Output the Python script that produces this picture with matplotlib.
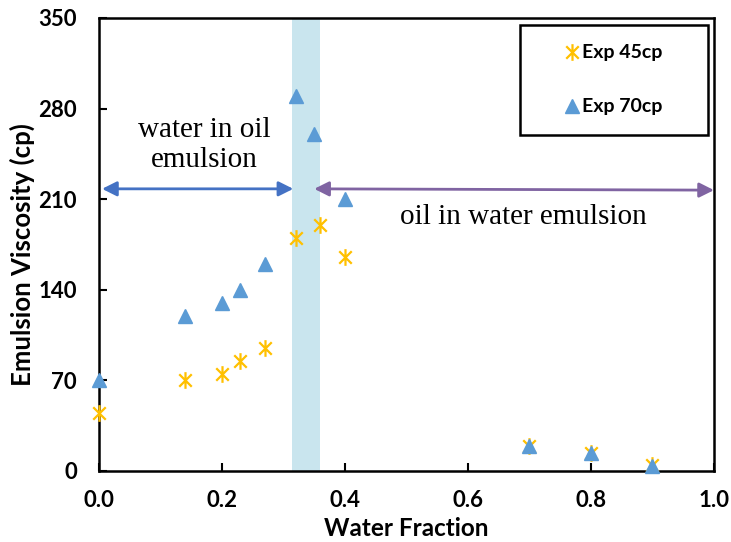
import matplotlib.pyplot as plt
from matplotlib.path import Path

# water fraction vs emulsion viscosity
x_45 = [0.0, 0.14, 0.20, 0.23, 0.27, 0.32, 0.36, 0.40, 0.70, 0.80, 0.90]
visc_45 = [45, 70, 75, 85, 95, 180, 190, 165, 19, 14, 5]

x_70 = [0.0, 0.14, 0.20, 0.23, 0.27, 0.32, 0.35, 0.40, 0.70, 0.80, 0.90]
visc_70 = [70, 120, 130, 140, 160, 290, 260, 210, 19, 14, 4]

band = (0.314, 0.359)
arrow_y = 218
xticks = [0.0, 0.2, 0.4, 0.6, 0.8, 1.0]
yticks = [0, 70, 140, 210, 280, 350]

# excel-style asterisk: vertical bar plus an X
star = Path([(0, -1), (0, 1), (-0.75, -0.75), (0.75, 0.75), (-0.75, 0.75), (0.75, -0.75)],
            [Path.MOVETO, Path.LINETO, Path.MOVETO, Path.LINETO, Path.MOVETO, Path.LINETO])

plt.rcParams['font.family'] = ['Lato', 'DejaVu Sans']

fig = plt.figure(figsize=(7.31, 5.42), dpi=100)
ax = fig.add_axes([0.1354, 0.131, 0.8413, 0.8358])

ax.axvspan(band[0], band[1], color='#c9e5ee', zorder=0, lw=0)

ax.plot(x_45, visc_45, linestyle='none', marker=star, markersize=12,
        markeredgewidth=1.6, color='#FFC000', label='Exp 45cp', zorder=3, clip_on=False)
ax.plot(x_70, visc_70, linestyle='none', marker='^', markersize=10,
        color='#5B9BD5', label='Exp 70cp', zorder=4, clip_on=False)

ax.annotate('', xy=(0.005, arrow_y), xytext=(0.316, arrow_y),
            arrowprops=dict(arrowstyle='<|-|>', color='#4472C4', lw=2, mutation_scale=22,
                            shrinkA=0, shrinkB=0))
ax.annotate('', xy=(0.35, arrow_y), xytext=(1.0, arrow_y - 1),
            arrowprops=dict(arrowstyle='<|-|>', color='#8064A2', lw=2, mutation_scale=22,
                            shrinkA=0, shrinkB=0), annotation_clip=False)

ax.text(0.172, 252, 'water in oil\nemulsion', ha='center', va='center',
        fontsize=21, family='Liberation Serif', linespacing=1.2)
ax.text(0.69, 196, 'oil in water emulsion', ha='center', va='center',
        fontsize=21, family='Liberation Serif')

ax.set_xlim(0, 1)
ax.set_ylim(0, 350)
ax.set_xticks(xticks)
ax.set_yticks(yticks)
ax.set_xticklabels([f'{t:.1f}' for t in xticks], fontweight='bold', fontsize=16)
ax.set_yticklabels([str(t) for t in yticks], fontweight='bold', fontsize=16)
ax.tick_params(axis='y', direction='in', length=6, width=1.5, pad=16)
ax.tick_params(axis='x', direction='in', length=6, width=1.5, pad=14)
for s in ax.spines.values():
    s.set_linewidth(1.8)

ax.set_xlabel('Water Fraction', fontweight='bold', fontsize=17.5, va='center')
ax.set_ylabel('Emulsion Viscosity (cp)', fontweight='bold', fontsize=18.5, va='center')
ax.xaxis.set_label_coords(0.499, -0.126)
ax.yaxis.set_label_coords(-0.125, 0.477)

leg = ax.legend(loc='upper left', bbox_to_anchor=(0.6846, 0.7528, 0.3054, 0.2317),
                mode='expand', frameon=True, fancybox=False, edgecolor='black',
                prop={'weight': 'bold', 'size': 14}, labelspacing=1.9, borderpad=1.0,
                handlelength=3.3, handletextpad=-1.1, borderaxespad=0.0)
leg.get_frame().set_linewidth(1.8)
leg.get_frame().set_alpha(1)

fig.savefig('out.png', dpi=100)
